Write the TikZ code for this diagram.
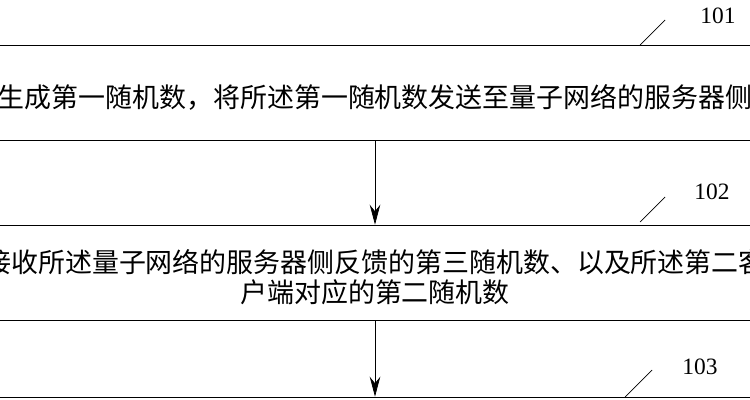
\documentclass[tikz,border=0pt]{standalone}
\usepackage{fontspec}
\newfontfamily\cjk{Noto Sans CJK SC}
\setmainfont{Liberation Serif}
\usetikzlibrary{arrows.meta}
\begin{document}
\begin{tikzpicture}[x=0.03cm,y=-0.03cm]
\tikzstyle{stepbox}=[draw,semithick,minimum width=790*0.03cm,minimum height=95*0.03cm]
\tikzstyle{txt}=[font=\cjk\fontsize{23}{30}\selectfont,inner sep=0]
\tikzstyle{num}=[font=\fontsize{20}{24}\selectfont]
\tikzstyle{flow}=[semithick,-{Stealth[length=17pt,width=9pt]}]
\useasboundingbox (0,0) rectangle (750,400);
\clip (0,0) rectangle (750,400);

\node[stepbox] (s1) at (375,92.5) {};
\node[stepbox] (s2) at (375,272.5) {};
\node[stepbox] (s3) at (375,444.5) {};

\node[txt] at (375,97) {生成第一随机数，将所述第一随机数发送至量子网络的服务器侧};
\node[txt] at (375,262) {接收所述量子网络的服务器侧反馈的第三随机数、以及所述第二客};
\node[txt] at (375,292) {户端对应的第二随机数};

\draw[flow] (s1) -- (s2);
\draw[flow] (s2) -- (s3);

\node[num] (n1) at (718,16) {101};
\node[num] (n2) at (712,192) {102};
\node[num] (n3) at (700,367) {103};
\draw[semithick] (640,45) -- (665,20);
\draw[semithick] (640,222) -- (665,197);
\draw[semithick] (625,397) -- (652,370);
\end{tikzpicture}
\end{document}
